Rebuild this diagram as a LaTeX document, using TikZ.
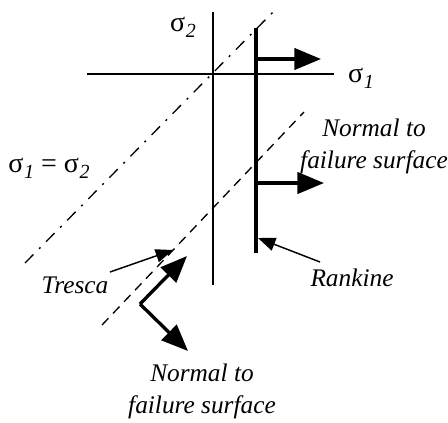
\documentclass[tikz,border=0pt]{standalone}
\usepackage{fontspec}
\setmainfont{Liberation Serif}
\usetikzlibrary{arrows.meta, positioning}

\newcommand{\sg}[1]{σ\kern0.5pt\raisebox{-0.45ex}{\fontsize{15}{15}\selectfont\itshape #1}}

\begin{document}
\begin{tikzpicture}[
    x=0.75pt, y=-0.75pt,
    axis/.style={line width=1.1pt},
    surface/.style={line width=2.8pt},
    normal/.style={line width=2.5pt, -{Triangle[length=20pt, width=16pt]}},
    pointer/.style={line width=1.1pt, -{Triangle[length=13pt, width=10pt]}},
    label/.style={font=\fontsize{19}{24}\selectfont\itshape, align=center, inner sep=0pt},
    sym/.style={font=\fontsize{21}{24}\selectfont, inner sep=0pt},
    equal/.style={line width=1pt, dash pattern=on 9pt off 6pt on 1.5pt off 6pt},
    tresca/.style={line width=1pt, dash pattern=on 7pt off 5pt}
]
\useasboundingbox (0,0) rectangle (448,422);

% axes
\coordinate (s1w) at (87,74);
\coordinate (s1e) at (334,74);
\coordinate (s2n) at (213,12);
\coordinate (s2s) at (213,285);
\draw[axis] (s1w) -- (s1e);
\draw[axis] (s2n) -- (s2s);
\node[sym] (s1) at (361,78) {\sg{1}};
\node[sym] (s2) at (183,27) {\sg{2}};

% sigma1 = sigma2 line and Tresca surface
\coordinate (eqlo) at (25,263);
\coordinate (eqhi) at (277,8);
\draw[equal] (eqlo) -- (eqhi);
\coordinate (trlo) at (102,325);
\coordinate (trhi) at (304,112);
\draw[tresca] (trlo) -- (trhi);
\node[sym] (eq) at (49,168) {\sg{1} = \sg{2}};

% Rankine surface with its normals
\coordinate (rktop) at (256,28);
\coordinate (rkbot) at (256,253);
\draw[surface] (rktop) -- (rkbot);
\coordinate (n1a) at (256,59);
\coordinate (n1b) at (321,59);
\coordinate (n2a) at (256,183);
\coordinate (n2b) at (324,183);
\draw[normal] (n1a) -- (n1b);
\draw[normal] (n2a) -- (n2b);
\node[label] (nrk) at (374,146) {Normal to\\failure surface};

% Tresca normals
\coordinate (corner) at (140,304);
\coordinate (tn1) at (187,256);
\coordinate (tn2) at (188,351);
\draw[normal] (corner) -- (tn1);
\draw[normal] (corner) -- (tn2);
\node[label] (ntr) at (202,391) {Normal to\\failure surface};

% names of the surfaces
\node[label] (tresca) at (75,285) {Tresca};
\node[label] (rankine) at (352,278) {Rankine};
\coordinate (trtip) at (173,250);
\coordinate (trtail) at (110,272);
\coordinate (rktip) at (258,238);
\coordinate (rktail) at (320,262);
\draw[pointer] (trtail) -- (trtip);
\draw[pointer] (rktail) -- (rktip);
\end{tikzpicture}
\end{document}
